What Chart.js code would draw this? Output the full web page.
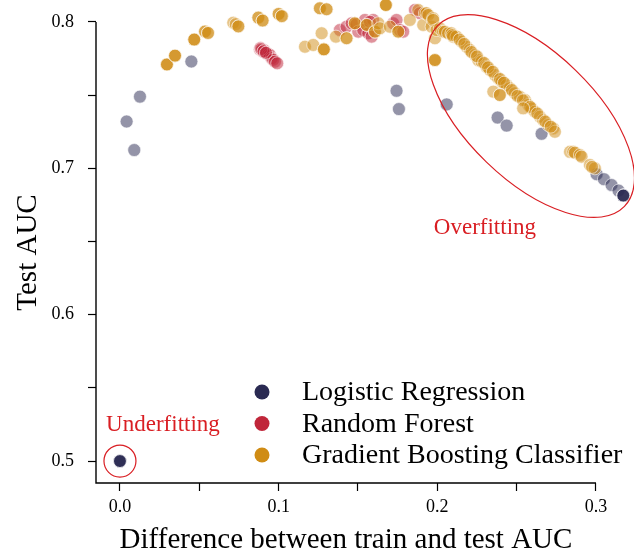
<!DOCTYPE html>
<html>
<head>
<meta charset="utf-8">
<script src="https://cdn.jsdelivr.net/npm/chart.js@4.4.1/dist/chart.umd.min.js"></script>
<style>
  html, body { margin: 0; padding: 0; background: #fff; }
</style>
</head>
<body>
<canvas id="graficoAuc" width="634" height="555"></canvas>
<script>
// Logistic Regression: difference train-test AUC (x) vs test AUC (y)
var lrX = [0.0, 0.0, 0.0, 0.0, 0.0, 0.0042, 0.0090, 0.0126, 0.0450, 0.1743, 0.1758, 0.2059,
           0.2380, 0.2437, 0.2657, 0.3004, 0.3050, 0.3098, 0.3142, 0.3172, 0.3172, 0.3172, 0.3172];
var lrY = [0.500, 0.500, 0.500, 0.500, 0.500, 0.7320, 0.7125, 0.7490, 0.7730, 0.7530, 0.7405, 0.7437,
           0.7347, 0.7292, 0.7236, 0.6960, 0.6926, 0.6886, 0.6848, 0.6814, 0.6814, 0.6814, 0.6814];

// Random Forest
var rfX = [0.0882, 0.0886, 0.0895, 0.0903, 0.0910, 0.0917, 0.0924, 0.0935, 0.0945, 0.0956, 0.0966, 0.0977, 0.0991,
           0.0890, 0.0905, 0.0920,
           0.1386, 0.1428, 0.1460, 0.1490, 0.1502, 0.1544, 0.1533, 0.1565, 0.1586, 0.1596, 0.1575,
           0.1722, 0.1743, 0.1764, 0.1785, 0.1859, 0.1890];
var rfY = [0.7813, 0.7822, 0.7808, 0.7797, 0.7806, 0.7790, 0.7786, 0.7779, 0.7774, 0.7752, 0.7742, 0.7729, 0.7718,
           0.7815, 0.7800, 0.7790,
           0.7945, 0.7968, 0.7991, 0.7985, 0.7934, 0.8014, 0.7945, 0.7923, 0.7900, 0.8014, 0.8002,
           0.7991, 0.8014, 0.7945, 0.7934, 0.8082, 0.8060];

// Gradient Boosting Classifier
var gbX = [0.0296, 0.0296, 0.0296, 0.0347, 0.0347, 0.0347, 0.0468, 0.0468, 0.0468, 0.0536, 0.0536, 0.0555, 0.0555,
           0.0714, 0.0730, 0.0746, 0.0746, 0.0872, 0.0872, 0.0899, 0.0899, 0.1000, 0.1000, 0.1020, 0.1020,
           0.1166, 0.1218, 0.1271, 0.1285, 0.1285, 0.1285, 0.1260, 0.1260, 0.1302, 0.1302, 0.1361,
           0.1428, 0.1428, 0.1480, 0.1480, 0.1555, 0.1555, 0.1607, 0.1607, 0.1628, 0.1638,
           0.1676, 0.1676, 0.1676, 0.1701, 0.1754, 0.1754, 0.1827,
           0.1880, 0.1911, 0.1922, 0.1932, 0.1943, 0.1964, 0.1974, 0.1974, 0.1985, 0.1995, 0.2016, 0.2037,
           0.2048, 0.2068, 0.1985, 0.1985, 0.1985,
           0.2089, 0.2100, 0.2121, 0.2153, 0.2184, 0.2205, 0.2237, 0.2258, 0.2279, 0.2310, 0.2331, 0.2363,
           0.2384, 0.2405, 0.2437, 0.2457, 0.2489, 0.2520, 0.2552, 0.2573, 0.2594, 0.2615, 0.2647, 0.2667,
           0.2699, 0.2730, 0.2741,
           0.2095, 0.2140, 0.2170, 0.2215, 0.2250, 0.2295, 0.2320, 0.2350, 0.2395, 0.2420, 0.2470, 0.2505,
           0.2540, 0.2585, 0.2630, 0.2680, 0.2715,
           0.2353, 0.2394, 0.2394, 0.2541,
           0.2836, 0.2857, 0.2867, 0.2899, 0.2909, 0.2962, 0.2993, 0.2975];
var gbY = [0.7710, 0.7710, 0.7710, 0.7770, 0.7770, 0.7770, 0.7880, 0.7880, 0.7880, 0.7935, 0.7935, 0.7925, 0.7925,
           0.7995, 0.7985, 0.7970, 0.7970, 0.8030, 0.8030, 0.8010, 0.8010, 0.8055, 0.8055, 0.8040, 0.8040,
           0.7831, 0.7843, 0.7923, 0.7813, 0.7813, 0.7813, 0.8094, 0.8094, 0.8087, 0.8087, 0.7900,
           0.7889, 0.7889, 0.7991, 0.7991, 0.7980, 0.7980, 0.7934, 0.7934, 0.7991, 0.7957,
           0.8116, 0.8116, 0.8116, 0.7968, 0.7934, 0.7934, 0.8014,
           0.8082, 0.7980, 0.8060, 0.8060, 0.8048, 0.7968, 0.8025, 0.8014, 0.7889, 0.7945, 0.7957, 0.7934,
           0.7934, 0.7923, 0.7740, 0.7740, 0.7740,
           0.7923, 0.7900, 0.7900, 0.7865, 0.7831, 0.7809, 0.7774, 0.7740, 0.7729, 0.7694, 0.7672, 0.7638,
           0.7615, 0.7592, 0.7569, 0.7547, 0.7513, 0.7489, 0.7467, 0.7433, 0.7410, 0.7387, 0.7353, 0.7330,
           0.7296, 0.7273, 0.7250,
           0.7910, 0.7880, 0.7850, 0.7795, 0.7765, 0.7720, 0.7690, 0.7660, 0.7610, 0.7585, 0.7535, 0.7495,
           0.7465, 0.7420, 0.7375, 0.7320, 0.7285,
           0.7524, 0.7501, 0.7501, 0.7410,
           0.7113, 0.7113, 0.7107, 0.7091, 0.7080, 0.7023, 0.7000, 0.7010];

var xTicks = [0.0, 0.05, 0.1, 0.15, 0.2, 0.25, 0.3];
var xTickLabels = ['0.0', '', '0.1', '', '0.2', '', '0.3'];
var yTicks = [0.5, 0.55, 0.6, 0.65, 0.7, 0.75, 0.8];
var yTickLabels = ['0.5', '', '0.6', '', '0.7', '', '0.8'];

var serif = '"Liberation Serif", "DejaVu Serif", serif';

var paraPontos = function(xs, ys) {
    var pts = [];
    for (var i = 0; i < xs.length; i++) {
        pts.push({x: xs[i], y: ys[i]});
    }
    return pts;
};

var serie = function(label, rgb, xs, ys, ordem) {
    return {
        label: label,
        data: paraPontos(xs, ys),
        cor: 'rgb(' + rgb + ')',
        backgroundColor: 'rgba(' + rgb + ',0.5)',
        borderColor: 'rgba(255,255,255,0.6)',
        borderWidth: 1,
        pointRadius: 6.5,
        pointHoverRadius: 6.5,
        clip: false,
        order: ordem
    };
};

// trimmed spines (x up to 0.3, y up to 0.8) and the axis titles
var eixos = {
    id: 'eixos',
    afterDraw: function(chart) {
        var ctx = chart.ctx;
        var sx = chart.scales.x, sy = chart.scales.y;
        var esq = chart.chartArea.left, base = chart.chartArea.bottom;
        var fimX = sx.getPixelForValue(xTicks[xTicks.length - 1]);
        var topoY = sy.getPixelForValue(yTicks[yTicks.length - 1]);
        ctx.save();
        ctx.strokeStyle = '#000';
        ctx.lineWidth = 1.4;
        ctx.beginPath();
        ctx.moveTo(esq, topoY);
        ctx.lineTo(esq, base);
        ctx.lineTo(fimX, base);
        ctx.stroke();

        ctx.fillStyle = '#000';
        ctx.font = '29px ' + serif;
        ctx.textAlign = 'center';
        ctx.textBaseline = 'middle';
        ctx.fillText('Difference between train and test AUC', (esq + fimX) / 2, 540);
        ctx.translate(28, (topoY + base) / 2);
        ctx.rotate(-Math.PI / 2);
        ctx.fillText('Test AUC', 0, 0);
        ctx.restore();
    }
};

// legend drawn inside the plot, lower right
var legenda = {
    id: 'legenda',
    afterDraw: function(chart) {
        var ctx = chart.ctx;
        var ds = chart.data.datasets;
        ctx.save();
        ctx.font = '28px ' + serif;
        ctx.textBaseline = 'middle';
        ctx.textAlign = 'left';
        for (var i = 0; i < ds.length; i++) {
            var y = 392 + 31.5 * i;
            ctx.beginPath();
            ctx.arc(262, y, 7.5, 0, Math.PI * 2);
            ctx.fillStyle = ds[i].cor;
            ctx.fill();
            ctx.fillStyle = '#000';
            ctx.fillText(ds[i].label, 302, y + 1);
        }
        ctx.restore();
    }
};

// underfitting / overfitting marks
var anotacoes = {
    id: 'anotacoes',
    afterDatasetsDraw: function(chart) {
        var ctx = chart.ctx;
        var sx = chart.scales.x, sy = chart.scales.y;
        var vermelho = '#d91e23';
        ctx.save();
        ctx.strokeStyle = vermelho;
        ctx.lineWidth = 1.2;

        ctx.beginPath();
        ctx.arc(sx.getPixelForValue(0), sy.getPixelForValue(0.5), 16, 0, Math.PI * 2);
        ctx.stroke();

        ctx.beginPath();
        ctx.ellipse(sx.getPixelForValue(0.259), sy.getPixelForValue(0.7357), 130, 64,
                    44 * Math.PI / 180, 0, Math.PI * 2);
        ctx.stroke();

        ctx.fillStyle = vermelho;
        ctx.font = '23px ' + serif;
        ctx.textAlign = 'center';
        ctx.textBaseline = 'middle';
        ctx.fillText('Underfitting', sx.getPixelForValue(0.0271), sy.getPixelForValue(0.5245));
        ctx.fillText('Overfitting', sx.getPixelForValue(0.230), sy.getPixelForValue(0.6592));
        ctx.restore();
    }
};

var eixo = function(min, max, ticks, labels, tamanho, espaco) {
    return {
        type: 'linear',
        min: min,
        max: max,
        afterBuildTicks: function(scale) {
            scale.ticks = ticks.map(function(v) { return {value: v}; });
        },
        afterFit: function(scale) {
            tamanho(scale);
            scale.paddingTop = 0;
            scale.paddingBottom = 0;
            scale.paddingLeft = 0;
            scale.paddingRight = 0;
        },
        grid: {
            display: true,
            drawOnChartArea: false,
            drawTicks: true,
            tickLength: 8,
            tickWidth: 1.2,
            tickColor: '#000'
        },
        border: { display: false },
        ticks: {
            color: '#000',
            padding: espaco,
            font: { family: serif, size: 18 },
            maxRotation: 0,
            autoSkip: false,
            callback: function(value, index) { return labels[index]; }
        },
        title: { display: false }
    };
};

var escalaX = eixo(-0.0151, 0.32395, xTicks, xTickLabels,
                   function(scale) { scale.height = 72; }, 5);
var escalaY = eixo(0.485, 0.81503, yTicks, yTickLabels,
                   function(scale) { scale.width = 96; }, 14);

new Chart(document.getElementById('graficoAuc'), {
    type: 'scatter',
    data: {
        datasets: [
            serie('Logistic Regression', '42,42,82', lrX, lrY, 3),
            serie('Random Forest', '192,38,58', rfX, rfY, 2),
            serie('Gradient Boosting Classifier', '208,140,20', gbX, gbY, 1)
        ]
    },
    options: {
        responsive: false,
        animation: false,
        devicePixelRatio: 1,
        layout: { padding: 0, autoPadding: false },
        plugins: {
            legend: { display: false },
            tooltip: { enabled: false }
        },
        scales: { x: escalaX, y: escalaY }
    },
    plugins: [anotacoes, eixos, legenda]
});
</script>
</body>
</html>
